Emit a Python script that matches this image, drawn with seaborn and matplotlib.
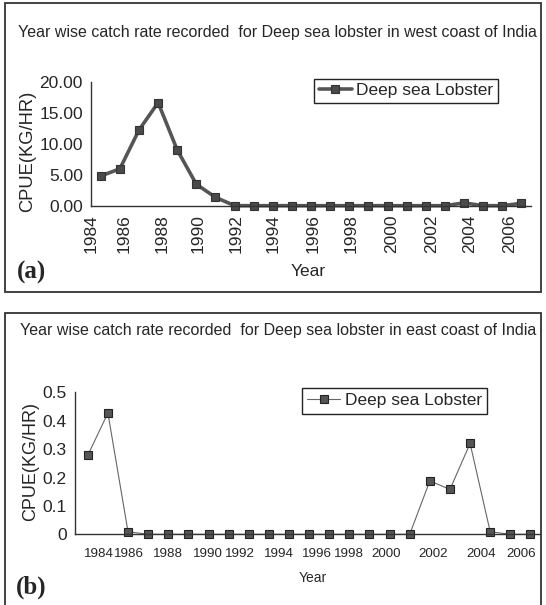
import numpy as np
import pandas as pd
import seaborn as sns
import matplotlib.pyplot as plt
from matplotlib.patches import Rectangle
from matplotlib.ticker import FixedLocator

# Data (23 yearly values each)
years = [1984, 1985, 1986, 1987, 1988, 1989, 1990, 1991, 1992, 1993, 1994, 1995,
         1996, 1997, 1998, 1999, 2000, 2001, 2002, 2003, 2004, 2005, 2006]
west_cpue = [4.84, 6.0, 12.26, 16.67, 9.03, 3.5, 1.4, 0.05, 0.05, 0.05, 0.05, 0.05,
             0.05, 0.05, 0.05, 0.05, 0.05, 0.05, 0.05, 0.5, 0.05, 0.05, 0.43]
east_cpue = [0.278, 0.427, 0.009, 0, 0, 0, 0, 0, 0, 0, 0, 0,
             0, 0, 0, 0, 0, 0.188, 0.158, 0.32, 0.009, 0, 0]
year_labels = ['1984', '1986', '1988', '1990', '1992', '1994',
               '1996', '1998', '2000', '2002', '2004', '2006']
west_yticks = [0, 5, 10, 15, 20]
west_ylabels = ['0.00', '5.00', '10.00', '15.00', '20.00']
east_yticks = [0, 0.1, 0.2, 0.3, 0.4, 0.5]
east_ylabels = ['0', '0.1', '0.2', '0.3', '0.4', '0.5']

# where the (oddly spaced) year labels sit, in category offsets from 1984
west_label_off = [-0.5, 1.2, 3.2, 5.1, 7.1, 9.0, 11.1, 13.1, 15.2, 17.3, 19.3, 21.4]
east_label_off = [0.54, 2.04, 3.99, 5.95, 7.58, 9.48, 11.38, 13.0, 14.84, 17.14, 19.57, 21.54]

west = pd.DataFrame({'year': years, 'cpue': west_cpue})
east = pd.DataFrame({'year': years, 'cpue': east_cpue})

sns.set_style('white')
plt.rcParams['font.family'] = ['Liberation Sans', 'DejaVu Sans']

W, H = 546, 605
fig = plt.figure(figsize=(W / 100, H / 100), dpi=100)


def px_axes(left, top, right, bottom):
    return fig.add_axes([left / W, 1 - bottom / H, (right - left) / W, (bottom - top) / H])


# panel frames
fig.patches.append(Rectangle((5 / W, 1 - 292 / H), 536 / W, 289 / H, transform=fig.transFigure,
                             fill=False, edgecolor='#333333', linewidth=1.3))
fig.patches.append(Rectangle((5 / W, -0.02), 536 / W, 1 - 313 / H + 0.02, transform=fig.transFigure,
                             fill=False, edgecolor='#333333', linewidth=1.3))

# ---- panel (a): west coast ----
ax1 = px_axes(91.2, 82, 531, 206)
sns.lineplot(data=west, x='year', y='cpue', marker='s', color='#555555', linewidth=2.6,
             markersize=6.3, markerfacecolor='#4a4a4a', markeredgecolor='#333333',
             markeredgewidth=0.8, label='Deep sea Lobster', clip_on=False, ax=ax1)
ax1.set_xlim(years[0] - 0.5, years[-1] + 0.5)
ax1.set_ylim(0, 20)
ax1.set_yticks(west_yticks)
ax1.set_yticklabels(west_ylabels, fontsize=12.5)
ax1.set_xticks([years[0] + o for o in west_label_off])
ax1.set_xticklabels(year_labels, rotation=90, fontsize=12.5)
ax1.xaxis.set_minor_locator(FixedLocator([y - 0.5 for y in years] + [years[-1] + 0.5]))
ax1.tick_params(axis='x', which='major', length=0, pad=6)
ax1.tick_params(axis='x', which='minor', length=4, width=0.8, direction='inout', color='#333333')
ax1.tick_params(axis='y', length=4, width=0.8, direction='out', color='#333333', pad=2)
for s in ['top', 'right']:
    ax1.spines[s].set_visible(False)
for s in ['left', 'bottom']:
    ax1.spines[s].set_color('#333333')
    ax1.spines[s].set_linewidth(1.0)
ax1.set_ylabel('CPUE(KG/HR)', fontsize=13.2)
ax1.yaxis.set_label_coords(-0.125, 0.44)
ax1.set_xlabel('Year', fontsize=12.5)
ax1.xaxis.label.set_va('center')
ax1.xaxis.set_label_coords(0.493, -0.532)
leg1 = ax1.legend(loc='upper left', bbox_to_anchor=(314.4 / W, 1 - 79 / H),
                  bbox_transform=fig.transFigure, borderaxespad=0, fontsize=12.5,
                  fancybox=False, edgecolor='#222222', framealpha=1,
                  handlelength=1.9, handletextpad=0.25, borderpad=0.25)
leg1.get_frame().set_linewidth(1.0)

fig.text(277.7 / W, 1 - 33 / H,
         'Year wise catch rate recorded  for Deep sea lobster in west coast of India',
         ha='center', va='center', fontsize=11.5)
fig.text(17 / W, 1 - 272 / H, '(a)', ha='left', va='center', fontsize=18,
         fontweight='bold', family=['Liberation Serif', 'DejaVu Serif'])

# ---- panel (b): east coast ----
ax2 = px_axes(74.9, 392.3, 539.7, 534.3)
sns.lineplot(data=east, x='year', y='cpue', marker='s', color='#666666', linewidth=0.8,
             markersize=6.4, markerfacecolor='#555555', markeredgecolor='#222222',
             markeredgewidth=0.8, label='Deep sea Lobster', clip_on=False, ax=ax2)
ax2.set_xlim(years[0] - 0.64, years[0] + 22.46)
ax2.set_ylim(0, 0.5)
ax2.set_yticks(east_yticks)
ax2.set_yticklabels(east_ylabels, fontsize=12.5)
ax2.set_xticks([years[0] + o for o in east_label_off])
ax2.set_xticklabels(year_labels, fontsize=9.6)
ax2.xaxis.set_minor_locator(FixedLocator([y + 0.55 for y in years[:-1]] + [years[0] - 0.45]))
ax2.tick_params(axis='x', which='major', length=4, width=0.8, direction='out',
                color='#333333', pad=6)
ax2.tick_params(axis='x', which='minor', length=3, width=0.8, direction='inout', color='#333333')
ax2.tick_params(axis='y', length=4, width=0.8, direction='out', color='#333333', pad=2)
for s in ['top', 'right']:
    ax2.spines[s].set_visible(False)
for s in ['left', 'bottom']:
    ax2.spines[s].set_color('#333333')
    ax2.spines[s].set_linewidth(1.0)
ax2.set_ylabel('CPUE(KG/HR)', fontsize=13)
ax2.yaxis.set_label_coords(-0.078, 0.51)
ax2.set_xlabel('Year', fontsize=10)
ax2.xaxis.label.set_va('center')
ax2.xaxis.set_label_coords(0.512, -0.308)
leg2 = ax2.legend(loc='upper left', bbox_to_anchor=(302 / W, 1 - 388 / H),
                  bbox_transform=fig.transFigure, borderaxespad=0, fontsize=12.5,
                  fancybox=False, edgecolor='#222222', framealpha=1,
                  handlelength=1.9, handletextpad=0.25, borderpad=0.3)
leg2.get_frame().set_linewidth(1.0)

fig.text(278 / W, 1 - 330 / H,
         'Year wise catch rate recorded  for Deep sea lobster in east coast of India',
         ha='center', va='center', fontsize=11.5)
fig.text(16 / W, 1 - 587 / H, '(b)', ha='left', va='center', fontsize=18,
         fontweight='bold', family=['Liberation Serif', 'DejaVu Serif'])

fig.savefig('out.png', dpi=100)
